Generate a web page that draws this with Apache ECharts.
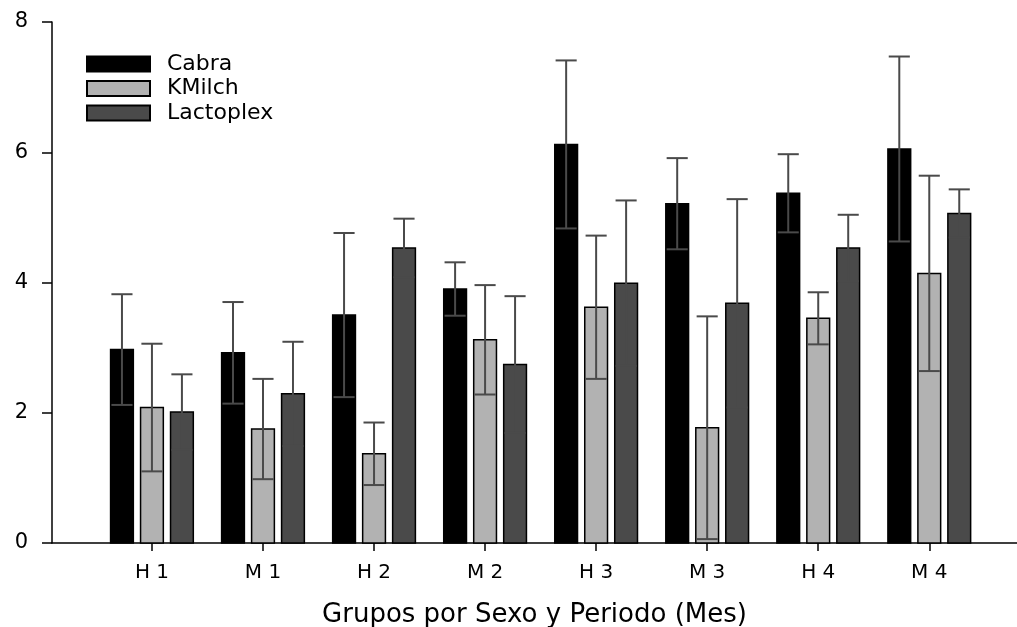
<!DOCTYPE html>
<html>
<head>
<meta charset="utf-8">
<script src="https://cdn.jsdelivr.net/npm/echarts@6/dist/echarts.min.js"></script>
<style>
  html, body { margin: 0; padding: 0; background: #fff; }
  #chart { width: 1017px; height: 627px; }
</style>
</head>
<body>
<div id="chart"></div>
<script>
const chart = echarts.init(document.getElementById("chart"));

// groups on the x axis
const categories = ["H 1", "M 1", "H 2", "M 2", "H 3", "M 3", "H 4", "M 4"];

// mean and error
const cabra      = [2.97, 2.92, 3.50, 3.90, 6.12, 5.21, 5.37, 6.05];
const cabraErr   = [0.85, 0.78, 1.26, 0.41, 1.29, 0.70, 0.60, 1.42];
const kmilch     = [2.08, 1.75, 1.37, 3.12, 3.62, 1.77, 3.45, 4.14];
const kmilchErr  = [0.98, 0.77, 0.48, 0.84, 1.10, 1.71, 0.40, 1.50];
const lacto      = [2.01, 2.29, 4.53, 2.74, 3.99, 3.68, 4.53, 5.06];
const lactoErr   = [0.58, 0.80, 0.45, 1.05, 1.27, 1.60, 0.51, 0.37];

const yTicks = [0, 2, 4, 6, 8];

const FONT = "DejaVu Sans";
const BAR_W = 0.205;   // in category units
const CAP_W = 0.19;
const ERR_COLOR = "#4a4a4a";

function rows(means, errs) {
  return means.map((m, i) => [i + 1, m, errs[i]]);
}

function makeRender(offset, fill) {
  return function (params, api) {
    const x = api.value(0) + offset;
    const mean = api.value(1);
    const err = api.value(2);
    const tl = api.coord([x - BAR_W / 2, mean]);
    const br = api.coord([x + BAR_W / 2, 0]);
    const top = api.coord([x, mean + err]);
    const bot = api.coord([x, Math.max(mean - err, 0)]);
    const capL = api.coord([x - CAP_W / 2, 0])[0];
    const capR = api.coord([x + CAP_W / 2, 0])[0];
    const errStyle = { stroke: ERR_COLOR, lineWidth: 2 };
    return {
      type: "group",
      children: [
        {
          type: "rect",
          shape: { x: tl[0], y: tl[1], width: br[0] - tl[0], height: br[1] - tl[1] },
          style: { fill: fill, stroke: "#000", lineWidth: 1.5 }
        },
        { type: "line", shape: { x1: top[0], y1: top[1], x2: bot[0], y2: bot[1] }, style: errStyle },
        { type: "line", shape: { x1: capL, y1: top[1], x2: capR, y2: top[1] }, style: errStyle },
        { type: "line", shape: { x1: capL, y1: bot[1], x2: capR, y2: bot[1] }, style: errStyle }
      ]
    };
  };
}

function barSeries(name, offset, fill, means, errs) {
  return {
    name: name,
    type: "custom",
    renderItem: makeRender(offset, fill),
    itemStyle: { color: fill, borderColor: "#000", borderWidth: 1.5 },
    encode: { x: 0, y: 1 },
    data: rows(means, errs)
  };
}

chart.setOption({
  animation: false,
  textStyle: { fontFamily: FONT, color: "#000" },
  grid: { left: 52, right: 0, top: 22, bottom: 84, containLabel: false, outerBoundsMode: "none" },

  legend: {
    orient: "vertical",
    left: 86,
    top: 53,
    padding: 0,
    icon: "rect",
    itemWidth: 63,
    itemHeight: 15,
    itemGap: 2.5,
    textStyle: { fontFamily: FONT, fontSize: 22, color: "#000", padding: [0, 0, 0, 12] },
    data: ["Cabra", "KMilch", "Lactoplex"]
  },

  xAxis: {
    type: "value",
    min: 0.1,
    max: 8.79,
    name: "Grupos por Sexo y Periodo (Mes)",
    nameLocation: "middle",
    nameGap: 59,
    nameTextStyle: { fontFamily: FONT, fontSize: 26, color: "#000" },
    axisLine: { show: true, onZero: false, lineStyle: { color: "#000", width: 1.5 } },
    axisTick: { show: true, length: 8, customValues: [1, 2, 3, 4, 5, 6, 7, 8], lineStyle: { color: "#000", width: 1.5 } },
    axisLabel: {
      customValues: [1, 2, 3, 4, 5, 6, 7, 8],
      formatter: v => categories[Math.round(v) - 1],
      margin: 20,
      fontFamily: FONT,
      fontSize: 20,
      color: "#000"
    },
    splitLine: { show: false }
  },

  yAxis: {
    type: "value",
    min: 0,
    max: 8,
    interval: 2,
    axisLine: { show: true, lineStyle: { color: "#000", width: 1.5 } },
    axisTick: { show: true, length: 10, lineStyle: { color: "#000", width: 1.5 } },
    axisLabel: {
      margin: 24,
      fontFamily: FONT,
      fontSize: 21,
      color: "#000",
      formatter: v => (yTicks.includes(v) ? String(v) : "")
    },
    splitLine: { show: false }
  },

  series: [
    barSeries("Cabra", -0.27, "#000000", cabra, cabraErr),
    barSeries("KMilch", 0, "#b2b2b2", kmilch, kmilchErr),
    barSeries("Lactoplex", 0.27, "#4a4a4a", lacto, lactoErr)
  ]
});
</script>
</body>
</html>
